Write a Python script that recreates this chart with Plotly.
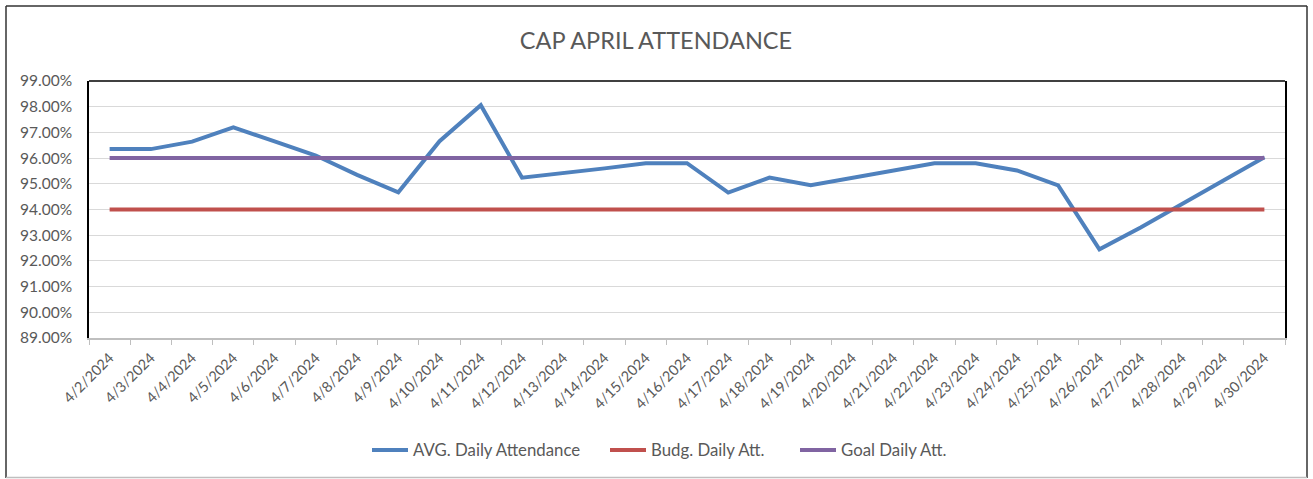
import plotly.graph_objects as go

dates = ["4/2/2024", "4/3/2024", "4/4/2024", "4/5/2024", "4/6/2024", "4/7/2024", "4/8/2024",
         "4/9/2024", "4/10/2024", "4/11/2024", "4/12/2024", "4/13/2024", "4/14/2024", "4/15/2024",
         "4/16/2024", "4/17/2024", "4/18/2024", "4/19/2024", "4/20/2024", "4/21/2024", "4/22/2024",
         "4/23/2024", "4/24/2024", "4/25/2024", "4/26/2024", "4/27/2024", "4/28/2024", "4/29/2024",
         "4/30/2024"]
avg_daily = [0.9635, 0.9635, 0.9664, 0.9720, 0.9665, 0.9610, 0.9535, 0.9467, 0.9666, 0.9806,
             0.9524, 0.9541, 0.9560, 0.9580, 0.9580, 0.9466, 0.9524, 0.9494, 0.9522, 0.9552,
             0.9580, 0.9580, 0.9552, 0.9494, 0.9245, 0.9330, 0.9420, 0.9509, 0.9603]
budg_daily = [0.94] * len(dates)
goal_daily = [0.96] * len(dates)
y_ticks = [0.89, 0.90, 0.91, 0.92, 0.93, 0.94, 0.95, 0.96, 0.97, 0.98, 0.99]

FONT = "Lato, 'Open Sans', sans-serif"
GRAY = "#595959"

fig = go.Figure()
fig.add_trace(go.Scatter(x=dates, y=avg_daily, mode="lines", name="AVG. Daily Attendance",
                         line=dict(color="#4f81bd", width=4), legend="legend"))
fig.add_trace(go.Scatter(x=dates, y=budg_daily, mode="lines", name="Budg. Daily Att.",
                         line=dict(color="#c0504d", width=4), legend="legend2"))
fig.add_trace(go.Scatter(x=dates, y=goal_daily, mode="lines", name="Goal Daily Att.",
                         line=dict(color="#8064a2", width=4), legend="legend3"))

W, H = 1313, 479
L, R, T, B = 89, 1285, 81, 338
pw, ph = R - L, B - T

def px(x):
    return (x - L) / pw

def py(y):
    return (B - y) / ph

shapes = [
    dict(type="line", xref="paper", yref="paper", x0=0, x1=1, y0=1, y1=1,
         line=dict(color="#000000", width=1.5)),
    dict(type="line", xref="paper", yref="paper", x0=px(6), x1=px(1307), y0=py(6), y1=py(6),
         line=dict(color="#333333", width=1.5)),
    dict(type="line", xref="paper", yref="paper", x0=px(6), x1=px(6), y0=py(6), y1=py(478),
         line=dict(color="#333333", width=1.5)),
    dict(type="line", xref="paper", yref="paper", x0=px(1307), x1=px(1307), y0=py(6), y1=py(478),
         line=dict(color="#333333", width=1.5)),
    dict(type="line", xref="paper", yref="paper", x0=px(6), x1=px(1307), y0=py(477.5), y1=py(477.5),
         line=dict(color="#bfbfbf", width=1.5)),
]

def leg(xpix):
    return dict(orientation="h", x=px(xpix), xanchor="left", y=py(450), yanchor="middle",
                font=dict(family=FONT, size=16.8, color=GRAY), itemwidth=36,
                bgcolor="rgba(0,0,0,0)")

fig.update_layout(
    width=W, height=H,
    margin=dict(l=L, r=W - R, t=T, b=H - B, autoexpand=False),
    paper_bgcolor="white", plot_bgcolor="white",
    title=dict(text="CAP APRIL ATTENDANCE", x=656 / W, xanchor="center",
               y=1 - 41 / H, yanchor="middle", yref="container",
               font=dict(family=FONT, size=23.5, color=GRAY)),
    font=dict(family=FONT, color=GRAY),
    showlegend=True,
    legend=leg(367),
    legend2=leg(605),
    legend3=leg(795),
    shapes=shapes,
)
fig.update_xaxes(type="category", range=[-0.5, len(dates) - 0.5], tickangle=-45,
                 tickson="boundaries", ticks="outside", ticklen=5, tickcolor="#bfbfbf",
                 showgrid=False, showline=True, linecolor="#bfbfbf", linewidth=1.5,
                 ticklabelstandoff=4,
                 tickfont=dict(family=FONT, size=14.5, color=GRAY), zeroline=False)
fig.update_yaxes(range=[0.89, 0.99], tickvals=y_ticks, tickformat=".2%",
                 showgrid=True, gridcolor="#d9d9d9", gridwidth=1,
                 showline=True, linecolor="#000000", linewidth=1.5, mirror=True,
                 ticks="", ticklabelstandoff=12,
                 tickfont=dict(family=FONT, size=15.5, color=GRAY), zeroline=False)

fig.write_html("out.html", config={"displayModeBar": False},
               post_script="document.body.style.margin='0';")
